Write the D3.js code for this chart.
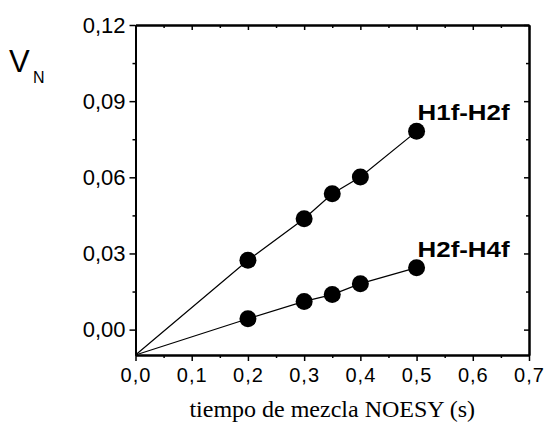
<!DOCTYPE html>
<html>
<head>
<meta charset="utf-8">
<script src="https://cdn.jsdelivr.net/npm/d3@7"></script>
<style>
  body { margin: 0; background: #fff; }
  svg { display: block; }
</style>
</head>
<body>
<div id="chart"></div>
<script>
// Data
var seriesNames = ["H1f-H2f", "H2f-H4f"];
var mixTimes    = [0.2, 0.3, 0.35, 0.4, 0.5];
var h1fH2f      = [0.0273, 0.0437, 0.0535, 0.0601, 0.0781];
var h2fH4f      = [0.0043, 0.0111, 0.0138, 0.0181, 0.0244];
var lineStart   = [0, -0.01];

var xTicks      = [0, 0.1, 0.2, 0.3, 0.4, 0.5, 0.6, 0.7];
var xMinor      = [0.05, 0.15, 0.25, 0.35, 0.45, 0.55, 0.65];
var yTicks      = [0, 0.03, 0.06, 0.09, 0.12];
var yMinor      = [0.015, 0.045, 0.075, 0.105];

// Canvas
var W = 546, H = 428;
var margin = { top: 25, right: 17, bottom: 73, left: 135.5 };
var width  = W - margin.left - margin.right;
var height = H - margin.top - margin.bottom;

var svg = d3.select("#chart").append("svg")
    .attr("width", W)
    .attr("height", H);

var g = svg.append("g")
    .attr("transform", "translate(" + margin.left + "," + margin.top + ")");

// Scales
var x = d3.scaleLinear().domain([0, 0.7]).range([0, width]);
var y = d3.scaleLinear().domain([-0.01, 0.12]).range([height, 0]);

var comma = d3.formatLocale({ decimal: ",", thousands: ".", grouping: [3], currency: ["", ""] });
var fx = comma.format(".1f");
var fy = comma.format(".2f");

// Axes
function styleAxis(sel) {
    sel.select(".domain").attr("stroke", "#000").attr("stroke-width", 2);
    sel.selectAll(".tick line").attr("stroke", "#000").attr("stroke-width", 1.5);
}

g.append("g")
    .attr("transform", "translate(0," + height + ")")
    .call(d3.axisBottom(x).tickValues(xTicks).tickFormat(fx).tickSize(6).tickSizeOuter(0).tickPadding(7))
    .call(styleAxis)
    .call(function(s) {
        s.selectAll("text")
            .attr("font-family", "'Liberation Sans', Arial, sans-serif")
            .attr("font-size", "20px")
            .attr("letter-spacing", "1px")
            .attr("fill", "#000");
    });

g.append("g")
    .attr("transform", "translate(0," + height + ")")
    .call(d3.axisBottom(x).tickValues(xMinor).tickFormat("").tickSize(3).tickSizeOuter(0))
    .call(styleAxis);

g.append("g")
    .call(d3.axisLeft(y).tickValues(yTicks).tickFormat(fy).tickSize(6).tickSizeOuter(0).tickPadding(4))
    .call(styleAxis)
    .call(function(s) {
        s.selectAll("text")
            .attr("font-family", "'Liberation Sans', Arial, sans-serif")
            .attr("font-size", "22px")
            .attr("fill", "#000");
    });

g.append("g")
    .call(d3.axisLeft(y).tickValues(yMinor).tickFormat("").tickSize(3).tickSizeOuter(0))
    .call(styleAxis);

// Mirrored axes (ticks inward)
g.append("g")
    .call(d3.axisBottom(x).tickValues(xTicks).tickFormat("").tickSize(5).tickSizeOuter(0))
    .call(styleAxis);
g.append("g")
    .call(d3.axisBottom(x).tickValues(xMinor).tickFormat("").tickSize(3).tickSizeOuter(0))
    .call(styleAxis);
g.append("g")
    .attr("transform", "translate(" + width + ",0)")
    .call(d3.axisLeft(y).tickValues(yTicks).tickFormat("").tickSize(5).tickSizeOuter(0))
    .call(styleAxis);
g.append("g")
    .attr("transform", "translate(" + width + ",0)")
    .call(d3.axisLeft(y).tickValues(yMinor).tickFormat("").tickSize(3).tickSizeOuter(0))
    .call(styleAxis);

// Series
var series = [h1fH2f, h2fH4f].map(function(vals, i) {
    return {
        name: seriesNames[i],
        points: mixTimes.map(function(t, j) { return [t, vals[j]]; })
    };
});

var line = d3.line()
    .x(function(d) { return x(d[0]); })
    .y(function(d) { return y(d[1]); });

series.forEach(function(s) {
    g.append("path")
        .attr("d", line([lineStart].concat(s.points)))
        .attr("fill", "none")
        .attr("stroke", "#000")
        .attr("stroke-width", 1.2);

    g.selectAll(null)
        .data(s.points)
        .enter()
        .append("circle")
            .attr("cx", function(d) { return x(d[0]); })
            .attr("cy", function(d) { return y(d[1]); })
            .attr("r", 8.5)
            .attr("fill", "#000");

    var last = s.points[s.points.length - 1];
    g.append("text")
        .attr("x", x(last[0]) + 1)
        .attr("y", y(last[1]) - 11)
        .attr("font-family", "'Liberation Sans', Arial, sans-serif")
        .attr("font-weight", "bold")
        .attr("font-size", "22px")
        .attr("textLength", 92)
        .attr("lengthAdjust", "spacingAndGlyphs")
        .text(s.name);
});

// Labels
svg.append("text")
    .attr("x", margin.left + width / 2)
    .attr("y", 417)
    .attr("text-anchor", "middle")
    .attr("font-family", "'Liberation Serif', 'Times New Roman', serif")
    .attr("font-size", "24px")
    .text("tiempo de mezcla NOESY (s)");

var yLabel = svg.append("text")
    .attr("x", 9)
    .attr("y", 71.5)
    .attr("font-family", "'Liberation Sans', Arial, sans-serif")
    .attr("font-size", "31px");
yLabel.append("tspan").text("V");
yLabel.append("tspan")
    .attr("x", 33)
    .attr("y", 83.3)
    .attr("font-size", "16px")
    .text("N");
</script>
</body>
</html>
